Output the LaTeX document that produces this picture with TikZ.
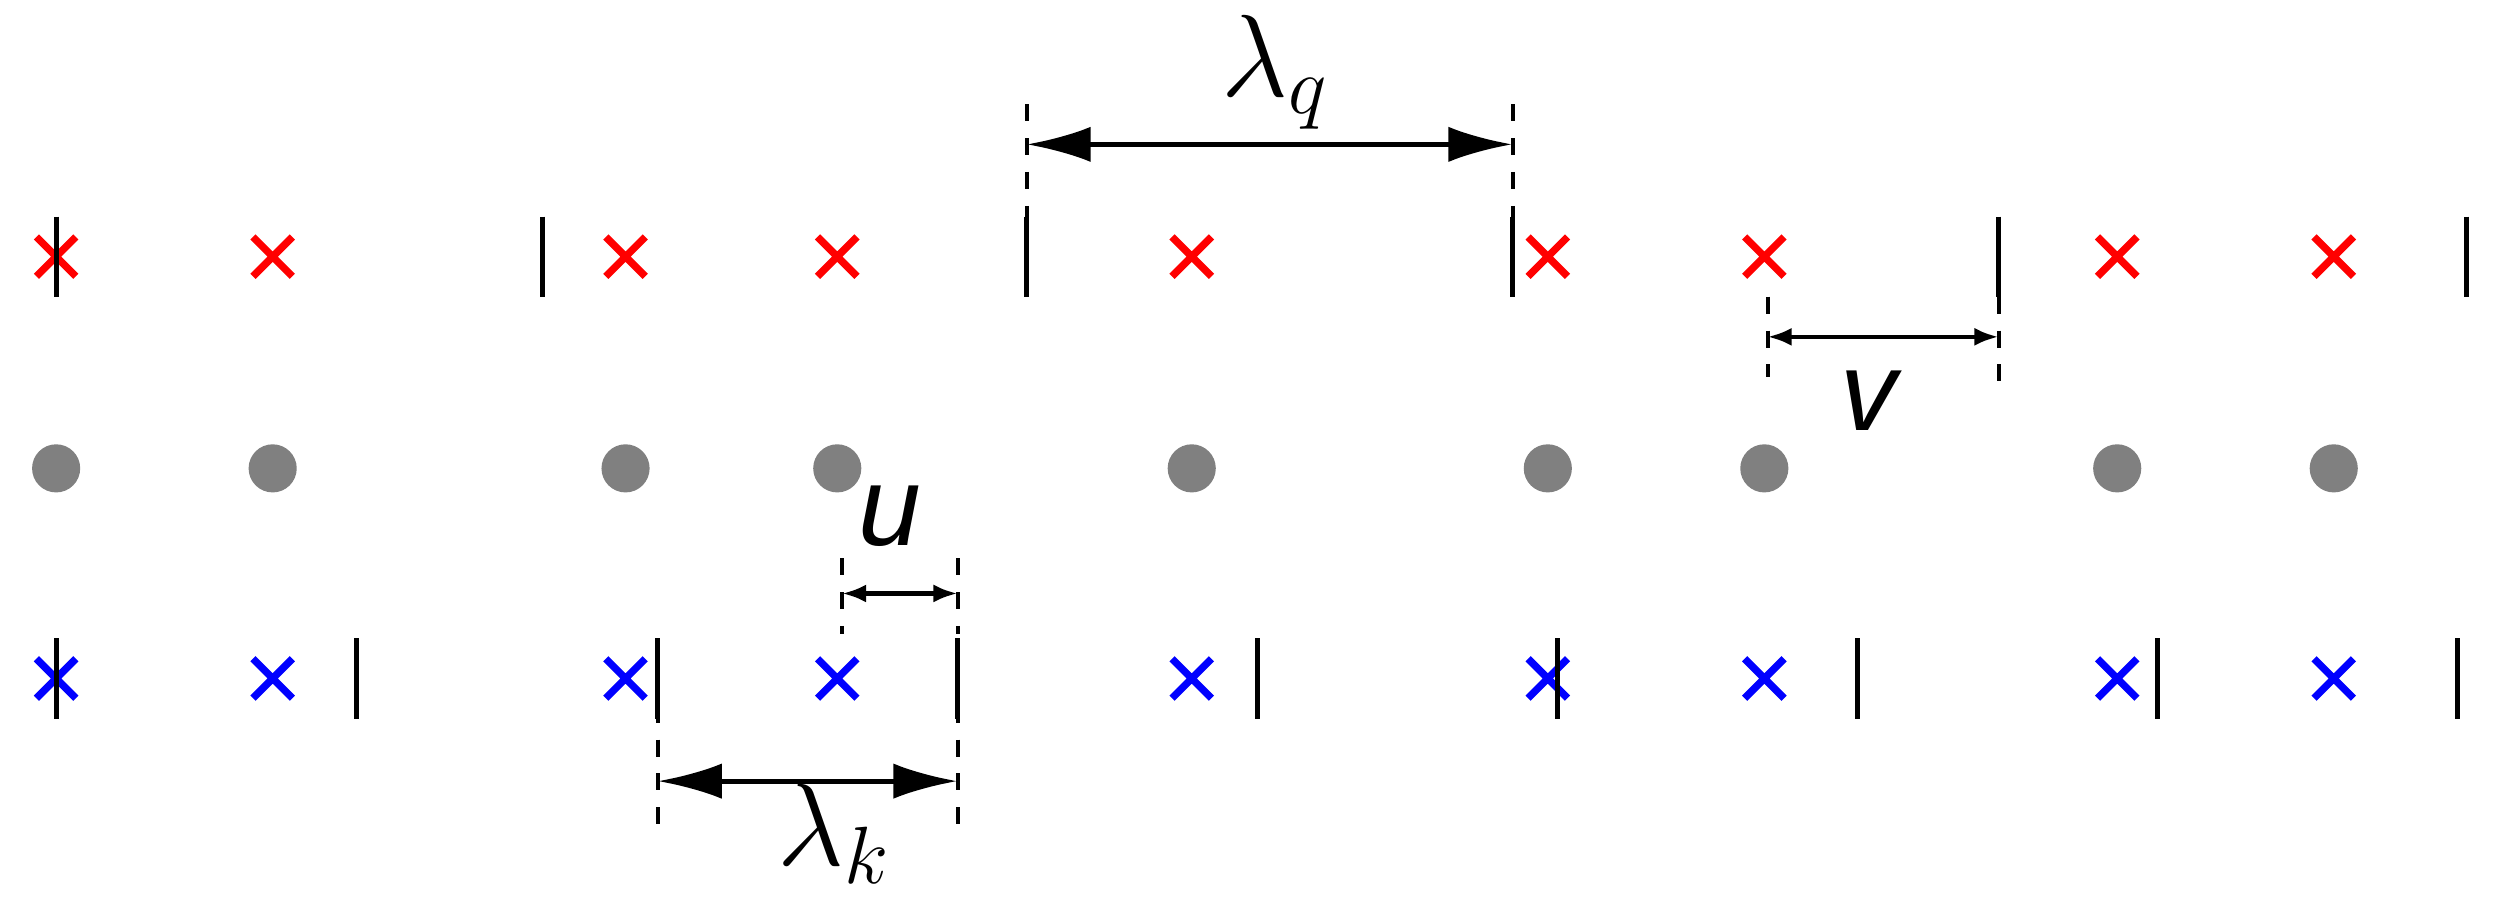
\documentclass[tikz,border=0pt]{standalone}
\usepackage{fontspec}
\setmainfont{Liberation Sans}
\usetikzlibrary{shapes.misc,arrows.meta}
\begin{document}
\begin{tikzpicture}[x=0.01cm,y=-0.01cm,
  rx/.style={cross out,draw=red,line width=1.3pt,minimum size=0.2cm,inner sep=0pt},
  bx/.style={cross out,draw=blue,line width=1.3pt,minimum size=0.2cm,inner sep=0pt},
  dot/.style={circle,fill=gray,minimum size=0.3cm,inner sep=0pt},
  tick/.style={line width=0.9pt},
  dsh/.style={dashed,line width=0.7pt},
  big/.style={-{Latex[length=0.4cm,width=0.22cm]},line width=0.9pt},
  small/.style={{Latex[length=0.15cm]}-{Latex[length=0.15cm]},line width=0.8pt},
  lab/.style={font=\fontsize{20}{22}\selectfont\itshape}]
\useasboundingbox (0,0) rectangle (1568,575);
\foreach \x [count=\i] in {35,170,390,522,743,965,1100,1320,1455}{
  \node[rx] (r\i) at (\x,160) {};
  \node[dot] (d\i) at (\x,292) {};
  \node[bx] (b\i) at (\x,423) {};
}
\foreach \x in {35,338,640,943,1246,1538} \draw[tick] (\x,135) -- (\x,185);
\foreach \x in {35,222,410,597,784,971,1158,1345,1532} \draw[tick] (\x,398) -- (\x,448);
% lambda q
\coordinate (q1) at (640,90); \coordinate (q2) at (943,90);
\draw[dsh] (640,65) -- (640,135); \draw[dsh] (943,65) -- (943,135);
\draw[big,{Latex[length=0.4cm,width=0.22cm]}-{Latex[length=0.4cm,width=0.22cm]}] (q1) -- (q2);
\node[lab] (lq) at (795,45) {$\lambda_q$};
% v
\coordinate (v1) at (1102,210); \coordinate (v2) at (1246,210);
\draw[dsh] (1102,185) -- (1102,235); \draw[dsh] (1246,185) -- (1246,240);
\draw[small] (v1) -- (v2);
\node[lab] (lv) at (1165,250) {v};
% u
\coordinate (u1) at (525,370); \coordinate (u2) at (597,370);
\draw[dsh] (525,348) -- (525,395); \draw[dsh] (597,348) -- (597,395);
\draw[small] (u1) -- (u2);
\node[lab] (lu) at (555,322) {u};
% lambda k
\coordinate (k1) at (410,487); \coordinate (k2) at (597,487);
\draw[dsh] (410,440) -- (410,520); \draw[dsh] (597,440) -- (597,520);
\draw[line width=0.9pt,{Latex[length=0.4cm,width=0.22cm]}-{Latex[length=0.4cm,width=0.22cm]}] (k1) -- (k2);
\node[lab] (lk) at (520,520) {$\lambda_k$};
\end{tikzpicture}
\end{document}
